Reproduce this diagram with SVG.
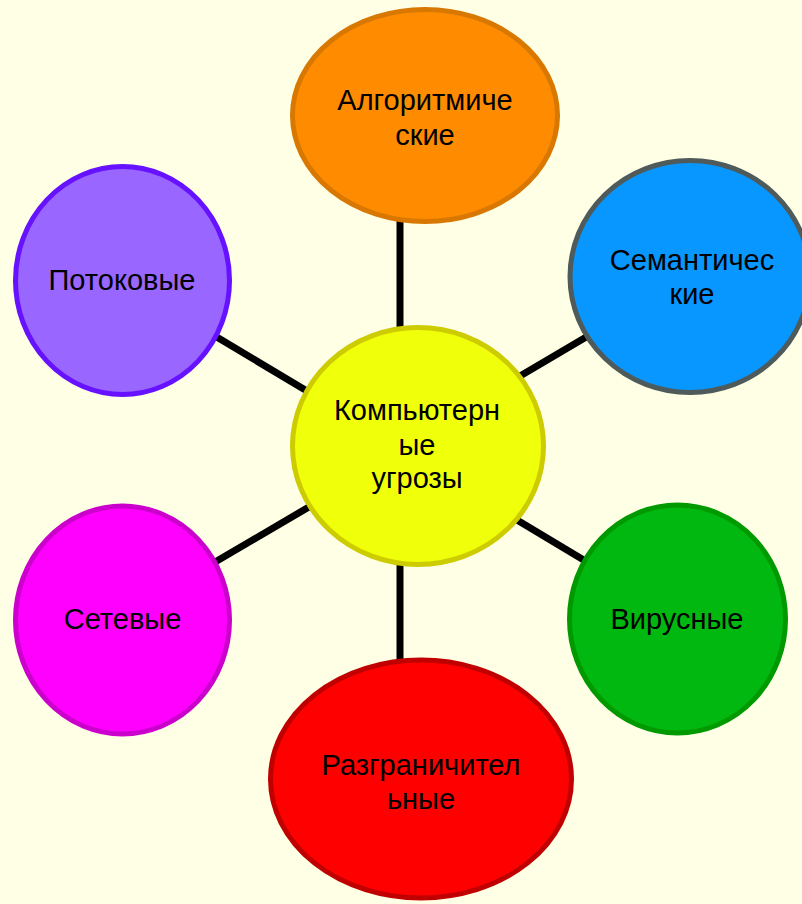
<svg xmlns="http://www.w3.org/2000/svg" width="802" height="904" viewBox="0 0 802 904">
<style>
.n{stroke-width:5}
.t{font-family:"Liberation Sans",Arial,sans-serif;font-size:29px;fill:#000;text-anchor:middle}
.c line{stroke:#000;stroke-width:7}
</style>
<rect width="802" height="904" fill="#ffffe6"/>
<g id="connectors" class="c">
<line x1="400" y1="215" x2="400" y2="335"/>
<line x1="400" y1="560" x2="400" y2="668"/>
<line x1="210" y1="333" x2="312" y2="394"/>
<line x1="515" y1="379" x2="593" y2="333"/>
<line x1="210" y1="565" x2="314" y2="504"/>
<line x1="512" y1="517" x2="592" y2="565"/>
</g>
<g id="algo">
<ellipse class="n" cx="425" cy="115.5" rx="132.5" ry="106" fill="#ff8c00" stroke="#d97800"/>
<text class="t" x="425" y="110">Алгоритмиче</text>
<text class="t" x="425" y="145">ские</text>
</g>
<g id="sem">
<ellipse class="n" cx="690" cy="276.5" rx="120" ry="116" fill="#0896ff" stroke="#4f5b5b"/>
<text class="t" x="692" y="270">Семантичес</text>
<text class="t" x="692" y="304">кие</text>
</g>
<g id="potok">
<ellipse class="n" cx="122.5" cy="280.5" rx="107" ry="114" fill="#9966ff" stroke="#6611ff"/>
<text class="t" x="122" y="290">Потоковые</text>
</g>
<g id="center">
<ellipse class="n" cx="418" cy="446" rx="125.5" ry="118.5" fill="#f0ff0a" stroke="#cccc00"/>
<text class="t" x="417" y="420">Компьютерн</text>
<text class="t" x="417" y="455">ые</text>
<text class="t" x="417" y="488">угрозы</text>
</g>
<g id="set">
<ellipse class="n" cx="122.5" cy="620" rx="107" ry="114" fill="#ff00ff" stroke="#cc00cc"/>
<text class="t" x="122.5" y="629">Сетевые</text>
</g>
<g id="vir">
<ellipse class="n" cx="677.5" cy="619" rx="108" ry="114" fill="#00b80f" stroke="#009900"/>
<text class="t" x="677" y="629">Вирусные</text>
</g>
<g id="razgr">
<ellipse class="n" cx="421" cy="779" rx="150.5" ry="119" fill="#ff0000" stroke="#c00000"/>
<text class="t" x="421" y="775">Разграничител</text>
<text class="t" x="421" y="809">ьные</text>
</g>
</svg>
